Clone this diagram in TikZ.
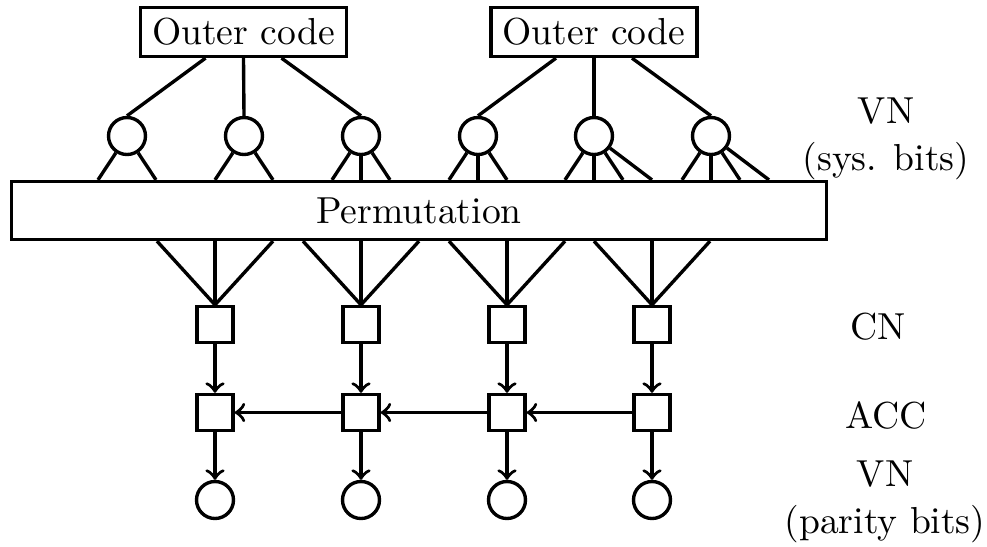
\documentclass[tikz,border=0pt]{standalone}
\usetikzlibrary{calc}
\begin{document}
\begin{tikzpicture}[x=0.266pt,y=-0.266pt,line width=0.9pt,
  vnode/.style={draw,circle,inner sep=0pt,minimum size=9.84pt},
  cnode/.style={draw,rectangle,inner sep=0pt,minimum size=9.58pt},
  outerbox/.style={draw,rectangle,inner sep=0pt,minimum width=54.8pt,minimum height=13pt},
  permbox/.style={draw,rectangle,inner sep=0pt,minimum width=216.8pt,minimum height=15.4pt},
  lbl/.style={align=center,inner sep=0pt},
  arr/.style={->}]
\useasboundingbox (0,0) rectangle (987,546);
\node[outerbox] (o1) at (243.5,32) {Outer code};
\node[outerbox] (o2) at (594,32) {Outer code};
\foreach \i/\x in {1/127,2/244,3/361,4/478,5/594,6/711}
  \node[vnode] (s\i) at (\x,136) {};
\node[permbox] (perm) at (419,210.5) {Permutation};
\foreach \i/\x in {1/215,2/361,3/507,4/652} {
  \node[cnode] (c\i) at (\x,324.5) {};
  \node[cnode] (a\i) at (\x,412.5) {};
  \node[vnode] (p\i) at (\x,500) {};
}
% outer code to systematic VNs
\draw ($(o1.south)+(-38,0)$) -- (s1.north);
\draw (o1.south) -- (s2.north);
\draw ($(o1.south)+(38,0)$) -- (s3.north);
\draw ($(o2.south)+(-38,0)$) -- (s4.north);
\draw (o2.south) -- (s5.north);
\draw ($(o2.south)+(38,0)$) -- (s6.north);
% VNs to permutation
\foreach \d in {-29,29} \draw (s1) -- ($(s1 |- perm.north)+(\d,0)$);
\foreach \d in {-29,29} \draw (s2) -- ($(s2 |- perm.north)+(\d,0)$);
\foreach \d in {-29,0,29} \draw (s3) -- ($(s3 |- perm.north)+(\d,0)$);
\foreach \d in {-29,0,29} \draw (s4) -- ($(s4 |- perm.north)+(\d,0)$);
\foreach \d in {-29,0,29,58} \draw (s5) -- ($(s5 |- perm.north)+(\d,0)$);
\foreach \d in {-29,0,29,58} \draw (s6) -- ($(s6 |- perm.north)+(\d,0)$);
% permutation to CNs
\foreach \i in {1,...,4}
  \foreach \d in {-58,0,58}
    \draw ($(c\i |- perm.south)+(\d,0)$) -- (c\i.north);
% arrows
\foreach \i in {1,...,4} {
  \draw[arr] (c\i) -- (a\i);
  \draw[arr] (a\i) -- (p\i);
}
\draw[arr] (a4) -- (a3);
\draw[arr] (a3) -- (a2);
\draw[arr] (a2) -- (a1);
% labels
\node[lbl] (lvs) at (886,139) {VN\\[0.6pt](sys. bits)};
\node[lbl] (lcn) at (878,327) {CN};
\node[lbl] (lacc) at (886,415) {ACC};
\node[lbl] (lvp) at (885,502) {VN\\[0.6pt](parity bits)};
\end{tikzpicture}
\end{document}
